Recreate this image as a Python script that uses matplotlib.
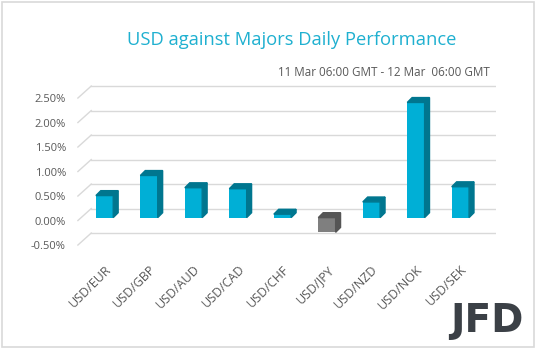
import numpy as np
import matplotlib.pyplot as plt
from matplotlib.patches import Polygon, Rectangle

pairs = ["USD/EUR", "USD/GBP", "USD/AUD", "USD/CAD", "USD/CHF",
         "USD/JPY", "USD/NZD", "USD/NOK", "USD/SEK"]
perf = [0.45, 0.86, 0.61, 0.59, 0.07, -0.30, 0.32, 2.35, 0.63]
yticks = [-0.5, 0.0, 0.5, 1.0, 1.5, 2.0, 2.5]
ytick_labels = ["-0.50%", "0.00%", "0.50%", "1.00%", "1.50%", "2.00%", "2.50%"]

front_pos = "#00afd6"
side_pos = "#00768f"
front_neg = "#7f7f7f"
side_neg = "#555555"

fig = plt.figure(figsize=(5.4, 3.52), dpi=100)
ax = fig.add_axes([77 / 540, 1 - 247.5 / 352, 419 / 540, 164.15 / 352])
ax.set_xlim(-0.62, 8.8)
ax.set_ylim(-0.55, 2.8)

# back wall gridlines and the diagonal to the front
back = 0.245
for v in yticks:
    ax.plot([-0.3, 8.78], [v + back, v + back], color="#d9d9d9", lw=1, zorder=1)
    ax.plot([-0.6, -0.3], [v, v + back], color="#d9d9d9", lw=1, zorder=1)

# 3D looking bars, floor sits a little behind the front labels
w = 0.39
dx, dy = 0.11, 0.1
base = 0.06
x = np.arange(len(pairs))
for xi, v in zip(x, perf):
    fc = front_pos if v >= 0 else front_neg
    sc = side_pos if v >= 0 else side_neg
    top = max(v, 0) + base
    bot = min(v, 0) + base
    ax.bar(xi, v, width=w, bottom=base, color=fc, zorder=3)
    ax.add_patch(Polygon([(xi + w / 2, bot), (xi + w / 2, top),
                          (xi + w / 2 + dx, top + dy), (xi + w / 2 + dx, bot + dy)],
                         closed=True, color=sc, zorder=3))
    ax.add_patch(Polygon([(xi - w / 2, top), (xi + w / 2, top),
                          (xi + w / 2 + dx, top + dy), (xi - w / 2 + dx, top + dy)],
                         closed=True, color=sc, zorder=3))

ax.set_yticks(yticks)
ax.set_yticklabels(ytick_labels, fontsize=8, color="#595959", family="Open Sans")
ax.set_xticks(x)
ax.set_xticklabels(pairs, rotation=45, ha="right", rotation_mode="anchor",
                   fontsize=9, color="#595959", family="Open Sans")
ax.tick_params(axis="y", length=0, pad=8)
ax.tick_params(axis="x", length=0, pad=11)
for s in ax.spines.values():
    s.set_visible(False)

fig.text(292 / 540, 1 - 40 / 352, "USD against Majors Daily Performance",
         ha="center", va="center", fontsize=13.2, color="#1fb0d0", family="Open Sans")
fig.text(490 / 540, 1 - 73 / 352, "11 Mar 06:00 GMT - 12 Mar  06:00 GMT",
         ha="right", va="center", fontsize=8.4, color="#595959", family="Open Sans")
fig.text(487 / 540, 1 - 321 / 352, "JFD", ha="center", va="center",
         fontsize=28, fontweight="bold", color="#3b4046", family="Liberation Sans Narrow")

fig.add_artist(Rectangle((1.5 / 540, 1 - 347 / 352), 532.5 / 540, 345 / 352,
                         transform=fig.transFigure, fill=False, ec="#d9d9d9", lw=1.2))

fig.savefig("out.png", dpi=100)
